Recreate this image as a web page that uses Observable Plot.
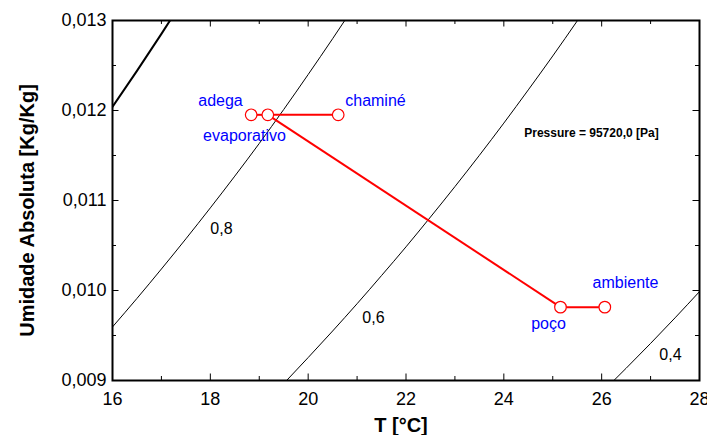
<!DOCTYPE html>
<html>
<head>
<meta charset="utf-8">
<script src="https://cdn.jsdelivr.net/npm/d3@7"></script>
<script src="https://cdn.jsdelivr.net/npm/@observablehq/plot@0.6"></script>
<style>
  html, body { margin: 0; padding: 0; background: white; overflow: hidden; }
  svg { overflow: visible; }
</style>
</head>
<body>
<div id="chart"></div>
<script>
// ---- data ----
// relative-humidity curves: temperature [°C] and absolute humidity [kg/kg]
const rh10T = [16, 16.5, 17, 17.5];
const rh10W = [0.01204, 0.01244, 0.012851, 0.013274];
const rh08T = [16, 16.5, 17, 17.5, 18, 18.5, 19, 19.5, 20, 20.5, 21];
const rh08W = [0.009595, 0.009912, 0.010239, 0.010574, 0.010918, 0.011271, 0.011634, 0.012011, 0.0124, 0.012798, 0.013207];
const rh06T = [19, 19.5, 20, 20.5, 21, 21.5, 22, 22.5, 23, 23.5, 24, 24.5, 25, 25.5, 26];
const rh06W = [0.008685, 0.008966, 0.009255, 0.00955, 0.009853, 0.010166, 0.010485, 0.010816, 0.011154, 0.011502, 0.01186, 0.012229, 0.012606, 0.012995, 0.013394];
const rh04T = [26, 26.5, 27, 27.5, 28];
const rh04W = [0.008866, 0.009136, 0.009412, 0.009696, 0.009988];

// state points
const pointNames = ["adega", "evaporativo", "chaminé", "poço", "ambiente"];
const pointT = [18.835, 19.175, 20.614, 25.158, 26.064];
const pointW = [0.011952, 0.011952, 0.011952, 0.009815, 0.009815];
// process segments (from, to)
const segFrom = ["evaporativo", "evaporativo", "evaporativo", "poço"];
const segTo = ["adega", "chaminé", "poço", "ambiente"];

// point labels (data coordinates)
const labelText = ["adega", "chaminé", "evaporativo", "ambiente", "poço"];
const labelT = [18.208, 21.376, 18.698, 26.487, 24.913];
const labelW = [0.012111, 0.012111, 0.011722, 0.010089, 0.009633];

// curve labels
const rhLabelText = ["0,8", "0,6", "0,4"];
const rhLabelT = [18.228, 21.335, 27.406];
const rhLabelW = [0.010689, 0.0097, 0.009289];

const pressureText = "Pressure = 95720,0 [Pa]";
const pressureT = 25.791;
const pressureW = 0.011744;

// axes
const xMajor = [16, 18, 20, 22, 24, 26, 28];
const xMinor = [17, 19, 21, 23, 25, 27];
const yMajor = [0.009, 0.010, 0.011, 0.012, 0.013];
const yMinor = [0.0095, 0.0105, 0.0115, 0.0125];
const xTitle = "T [°C]";
const yTitle = "Umidade Absoluta [Kg/Kg]";

// ---- build tables ----
const mk = (T, W) => T.map((t, i) => ({T: t, W: W[i]}));
const curves = [
  {data: mk(rh10T, rh10W), w: 2},
  {data: mk(rh08T, rh08W), w: 1},
  {data: mk(rh06T, rh06W), w: 1},
  {data: mk(rh04T, rh04W), w: 1}
];
const points = pointNames.map((n, i) => ({name: n, T: pointT[i], W: pointW[i]}));
const byName = Object.fromEntries(points.map(p => [p.name, p]));
const segs = segFrom.map((f, i) => ({a: byName[f], b: byName[segTo[i]]}));
const labels = labelText.map((t, i) => ({text: t, T: labelT[i], W: labelW[i]}));
const rhLabels = rhLabelText.map((t, i) => ({text: t, T: rhLabelT[i], W: rhLabelW[i]}));

const W = 707, H = 435;
const mL = 112, mR = 8, mT = 20, mB = 55;
const fw = W - mL - mR, fh = H - mT - mB;

const chart = Plot.plot({
  width: W, height: H,
  marginLeft: mL, marginRight: mR, marginTop: mT, marginBottom: mB,
  style: {fontFamily: "'Liberation Sans', Arial, sans-serif", background: "white", color: "black"},
  x: {domain: [16, 28]},
  y: {domain: [0.009, 0.013]},
  marks: [
    // curves
    ...curves.map(c => Plot.line(c.data, {x: "T", y: "W", curve: "monotone-x", stroke: "black", strokeWidth: c.w, clip: true})),
    // process lines
    Plot.link(segs, {x1: d => d.a.T, y1: d => d.a.W, x2: d => d.b.T, y2: d => d.b.W, stroke: "red", strokeWidth: 2}),
    Plot.dot(points, {x: "T", y: "W", r: 5.8, fill: "white", stroke: "red", strokeWidth: 1.2}),
    // labels
    Plot.text(labels, {x: "T", y: "W", text: "text", fill: "#0000ff", fontSize: 16}),
    Plot.text(rhLabels, {x: "T", y: "W", text: "text", fill: "black", fontSize: 16}),
    Plot.text([pressureText], {x: pressureT, y: pressureW, text: d => d, fontSize: 12, fontWeight: "bold", fill: "black"}),
    // ticks (inside)
    Plot.tickX(xMajor, {x: d => d, insetTop: fh - 6.5, strokeWidth: 1}),
    Plot.tickX(xMinor, {x: d => d, insetTop: fh - 4, strokeWidth: 1}),
    Plot.tickX(xMajor, {x: d => d, insetBottom: fh - 6.5, strokeWidth: 1}),
    Plot.tickX(xMinor, {x: d => d, insetBottom: fh - 4, strokeWidth: 1}),
    Plot.tickY(yMajor, {y: d => d, insetRight: fw - 6.5, strokeWidth: 1}),
    Plot.tickY(yMinor, {y: d => d, insetRight: fw - 4, strokeWidth: 1}),
    Plot.tickY(yMajor, {y: d => d, insetLeft: fw - 6.5, strokeWidth: 1}),
    Plot.tickY(yMinor, {y: d => d, insetLeft: fw - 4, strokeWidth: 1}),
    Plot.frame({stroke: "black", strokeWidth: 2}),
    // tick labels
    Plot.axisX({ticks: xMajor, tickSize: 0, tickPadding: 12, fontSize: 18, label: null, tickFormat: d => String(d)}),
    Plot.axisY({ticks: yMajor, tickSize: 0, tickPadding: 6, fontSize: 18, label: null, tickFormat: d => d.toFixed(3).replace(".", ",")}),
    // axis titles
    Plot.text([xTitle], {text: d => d, frameAnchor: "bottom", textAnchor: "middle", lineAnchor: "middle", dx: -5, dy: 45, fontSize: 20, fontWeight: "bold", fill: "black"}),
    Plot.text([yTitle], {text: d => d, frameAnchor: "left", textAnchor: "middle", lineAnchor: "middle", dx: -85, dy: 10, rotate: -90, fontSize: 20, fontWeight: "bold", fill: "black"})
  ]
});
document.getElementById("chart").appendChild(chart);
</script>
</body>
</html>
